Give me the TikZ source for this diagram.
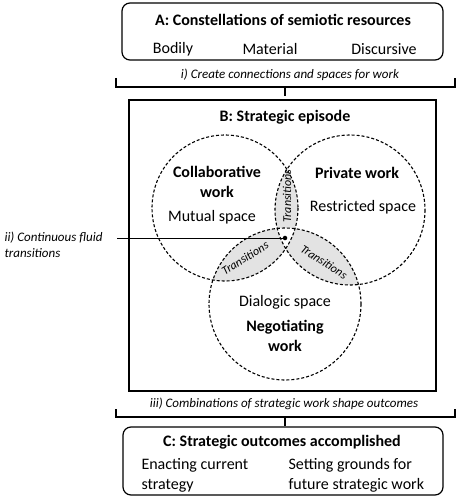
\documentclass[tikz,border=0pt]{standalone}
\usepackage{fontspec}
\setmainfont{Carlito}
\usetikzlibrary{calc,positioning}

\begin{document}
\begin{tikzpicture}[x=1pt,y=-1pt,
  box/.style={draw, line width=1.2pt},
  head/.style={font=\fontsize{16}{20}\selectfont\bfseries},
  txt/.style={font=\fontsize{16}{20}\selectfont},
  note/.style={font=\fontsize{13}{16}\selectfont\itshape},
  trans/.style={font=\fontsize{12}{13}\selectfont\itshape},
  ring/.style={dash pattern=on 3pt off 2pt, line width=1.1pt},
  brace/.style={line width=1.8pt}]
\useasboundingbox (0,0) rectangle (459,500);
% boxes
\draw[box, rounded corners=8pt] (122,3) rectangle (443,60);
\draw[box] (129,100) rectangle (436,391);
\draw[box, rounded corners=8pt] (123,427) rectangle (443,495);
% circles
\coordinate (cl) at (225,208);
\coordinate (cr) at (350,210);
\coordinate (cb) at (285,304);
\begin{scope}
\clip (cl) circle (73);
\fill[gray!22] (cr) circle (75);
\fill[gray!22] (cb) circle (76);
\end{scope}
\begin{scope}
\clip (cr) circle (75);
\fill[gray!22] (cb) circle (76);
\end{scope}
\begin{scope}
\clip (cl) circle (73);
\clip (cr) circle (75);
\fill[white] (cb) circle (76);
\end{scope}
\draw[ring] (cl) circle (73);
\draw[ring] (cr) circle (75);
\draw[ring] (cb) circle (76);
% A
\node[head] (titleA) at (283,20) {A: Constellations of semiotic resources};
\node[txt] (bodily) at (173,49) {Bodily};
\node[txt] (material) at (270,49) {Material};
\node[txt] (discursive) at (384,49) {Discursive};
\node[note] (stepi) at (290,75) {i) Create connections and spaces for work};
\draw[brace] (116,78) -- (116,87) -- (455,87) -- (455,78);
\draw[brace] (285,87) -- (285,96);
% B
\node[head] (titleB) at (285,117) {B: Strategic episode};
\node[head, align=center] (collab) at (217,182) {Collaborative\\work};
\node[txt] (mutual) at (212,217) {Mutual space};
\node[head] (private) at (357,173) {Private work};
\node[txt] (restricted) at (363,207) {Restricted space};
\node[txt] (dialogic) at (285,302) {Dialogic space};
\node[head, align=center] (negot) at (285,336) {Negotiating\\work};
\node[trans, rotate=90] (tr1) at (287,196) {Transitions};
\node[trans, rotate=32] (tr2) at (245,258) {Transitions};
\node[trans, rotate=-33] (tr3) at (324,262) {Transitions};
% ii
\node[circle, fill, inner sep=1.6pt] (dot) at (285,238) {};
\node[note, align=left, anchor=west] (stepii) at (1,245) {ii) Continuous fluid\\transitions};
\coordinate (lstart) at (117,238);
\draw[line width=1pt] (lstart) -- (dot);
% iii
\node[note] (stepiii) at (284,404) {iii) Combinations of strategic work shape outcomes};
\draw[brace] (116,409) -- (116,417) -- (455,417) -- (455,409);
\draw[brace] (285,417) -- (285,426);
% C
\node[head] (titleC) at (282,442) {C: Strategic outcomes accomplished};
\node[txt, align=left, anchor=west] (enact) at (138,475) {Enacting current\\strategy};
\node[txt, align=left, anchor=west] (setting) at (285,475) {Setting grounds for\\future strategic work};
\end{tikzpicture}
\end{document}
